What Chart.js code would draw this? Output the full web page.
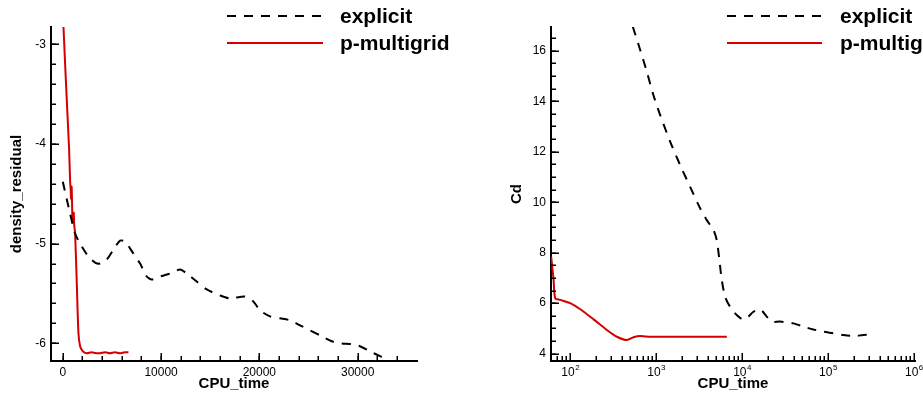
<!DOCTYPE html>
<html>
<head>
<meta charset="utf-8">
<script src="https://cdn.jsdelivr.net/npm/chart.js@4.4.1/dist/chart.umd.min.js"></script>
<style>
  body { margin: 0; background: #fff; }
  #wrap { position: relative; width: 923px; height: 394px; overflow: hidden; }
  canvas { position: absolute; top: 0; }
</style>
</head>
<body>
<div id="wrap">
  <canvas id="residualChart" width="460" height="394" style="left:0"></canvas>
  <canvas id="cdChart" width="463" height="394" style="left:460px"></canvas>
</div>
<script>
// density residual (log10) against CPU time
const resExplicitTime = [0, 746, 1254, 1763, 2610, 3288, 3797, 4475, 5153, 5831, 6339, 7186, 7864, 8542, 9051, 9898, 10915, 11932, 12610, 13627, 14644, 16000, 17017, 18542, 19390, 20068, 21085, 22102, 23119, 24136, 25153, 26169, 27356, 28203, 29559, 30237, 31254, 32271, 33119, 34000];
const resExplicitVal = [-4.38, -4.70, -4.90, -5.00, -5.13, -5.19, -5.20, -5.16, -5.06, -4.97, -4.98, -5.10, -5.20, -5.33, -5.36, -5.33, -5.30, -5.26, -5.30, -5.38, -5.46, -5.52, -5.55, -5.53, -5.58, -5.67, -5.73, -5.75, -5.77, -5.82, -5.87, -5.92, -5.98, -6.00, -6.01, -6.03, -6.08, -6.13, -6.17, -6.22];
const resMultigridTime = [30, 68, 407, 644, 746, 800, 847, 900, 983, 1030, 1085, 1120, 1153, 1254, 1424, 1593, 1763, 2034, 2441, 2900, 3400, 3797, 4300, 4800, 5300, 5800, 6300, 6678];
const resMultigridVal = [-2.6, -2.82, -3.56, -4.06, -4.38, -4.45, -4.55, -4.43, -4.76, -4.78, -4.70, -4.69, -4.80, -4.90, -5.40, -5.90, -6.03, -6.08, -6.10, -6.09, -6.10, -6.10, -6.09, -6.10, -6.09, -6.10, -6.09, -6.09];

// drag coefficient against CPU time
const cdExplicitTime = [535, 652, 778, 930, 1114, 1455, 1902, 2485, 3249, 3884, 4641, 5073, 5446, 5803, 6344, 7247, 8665, 10183, 11850, 13550, 16200, 19360, 22130, 27660, 39530, 51640, 67470, 88270, 115300, 150700, 197100, 257600, 330700];
const cdExplicitVal = [16.95, 16.03, 15.17, 14.24, 13.45, 12.40, 11.47, 10.61, 9.76, 9.29, 8.90, 8.50, 7.71, 6.92, 6.26, 5.86, 5.53, 5.36, 5.47, 5.66, 5.76, 5.47, 5.27, 5.27, 5.20, 5.07, 4.96, 4.87, 4.81, 4.74, 4.70, 4.74, 4.77];
const cdMultigridTime = [60, 64, 66.9, 76.5, 100, 130.7, 186.6, 266.7, 348.9, 456, 545, 651, 851, 1738, 6640];
const cdMultigridVal = [7.84, 6.92, 6.19, 6.13, 6.0, 5.76, 5.36, 4.94, 4.67, 4.54, 4.65, 4.70, 4.67, 4.67, 4.67];

const seriesNames = ["explicit", "p-multigrid"];

// axis ticks
const resXTicks = [0, 10000, 20000, 30000];
const resYTicks = [-6, -5, -4, -3];
const cdXTicks = [100, 1000, 10000, 100000, 1000000];
const cdYTicks = [4, 6, 8, 10, 12, 14, 16];

const RED = "#d40000";
const FONT = "'Liberation Sans', Arial, Helvetica, sans-serif";

function pairs(xs, ys) {
  return xs.map((x, i) => ({ x: x, y: ys[i] }));
}

function minorSteps(from, to, step) {
  const out = [];
  for (let v = from; v <= to + 1e-9; v += step) out.push(+v.toFixed(6));
  return out;
}

function logMinor(fromExp, toExp) {
  const out = [];
  for (let e = fromExp; e < toExp; e++)
    for (let m = 2; m <= 9; m++) out.push(m * Math.pow(10, e));
  return out;
}

// tick marks drawn on the inside of the axes
const inwardTicks = {
  id: "inwardTicks",
  afterDatasetsDraw(chart, args, o) {
    const ctx = chart.ctx;
    const xs = chart.scales.x, ys = chart.scales.y;
    ctx.save();
    ctx.strokeStyle = "#000";
    ctx.lineWidth = 1.5;
    const xt = (v, len) => {
      const px = Math.round(xs.getPixelForValue(v)) + 0.25;
      if (px < xs.left + 2 || px > xs.right) return;
      ctx.beginPath(); ctx.moveTo(px, xs.top); ctx.lineTo(px, xs.top - len); ctx.stroke();
    };
    const yt = (v, len) => {
      const py = Math.round(ys.getPixelForValue(v)) + 0.25;
      if (py < ys.top || py > ys.bottom - 2) return;
      ctx.beginPath(); ctx.moveTo(ys.right, py); ctx.lineTo(ys.right + len, py); ctx.stroke();
    };
    o.xMinor.forEach(v => xt(v, 5));
    o.xMajor.forEach(v => xt(v, 8));
    o.yMinor.forEach(v => yt(v, 5));
    o.yMajor.forEach(v => yt(v, 8));
    ctx.restore();
  }
};

// line-sample key in the upper right corner
const lineKey = {
  id: "lineKey",
  afterDraw(chart, args, o) {
    const ctx = chart.ctx;
    ctx.save();
    chart.data.datasets.forEach((ds, i) => {
      const y = o.rows[i];
      ctx.strokeStyle = ds.borderColor;
      ctx.lineWidth = ds.borderWidth;
      ctx.setLineDash(ds.borderDash || []);
      ctx.beginPath(); ctx.moveTo(o.x0, y); ctx.lineTo(o.x1, y); ctx.stroke();
      ctx.setLineDash([]);
      ctx.fillStyle = "#000";
      ctx.font = "bold 21px " + FONT;
      ctx.textBaseline = "middle";
      ctx.fillText(ds.label, o.textX, y + 1);
    });
    ctx.restore();
  }
};

// power-of-ten labels for the log axis
const powerLabels = {
  id: "powerLabels",
  afterDraw(chart, args, o) {
    if (!o.enabled) return;
    const ctx = chart.ctx;
    const xs = chart.scales.x;
    ctx.save();
    ctx.fillStyle = "#000";
    ctx.textBaseline = "alphabetic";
    xs.ticks.forEach(t => {
      const px = xs.getPixelForValue(t.value);
      const exp = String(Math.round(Math.log10(t.value)));
      ctx.font = "12px " + FONT;
      const wb = ctx.measureText("10").width;
      ctx.font = "8px " + FONT;
      const we = ctx.measureText(exp).width;
      const left = px - (wb + we) / 2;
      ctx.font = "12px " + FONT;
      ctx.fillText("10", left, xs.top + 15);
      ctx.font = "8px " + FONT;
      ctx.fillText(exp, left + wb + 0.5, xs.top + 9);
    });
    ctx.restore();
  }
};

function buildChart(id, cfg) {
  const datasets = [
    { label: seriesNames[0], data: cfg.explicit, borderColor: "#000", borderWidth: 2, borderDash: [9, 8] },
    { label: seriesNames[1], data: cfg.multigrid, borderColor: RED, borderWidth: 2 }
  ].map(d => Object.assign(d, { pointRadius: 0, fill: false, tension: 0.25 }));

  return new Chart(document.getElementById(id), {
    type: "line",
    data: { datasets: datasets },
    plugins: [inwardTicks, lineKey, powerLabels],
    options: {
      responsive: false,
      animation: false,
      events: [],
      layout: { padding: { top: 27, right: cfg.padRight, left: 0, bottom: 0 } },
      plugins: {
        legend: { display: false },
        tooltip: { enabled: false },
        inwardTicks: cfg.ticks,
        lineKey: cfg.key,
        powerLabels: { enabled: cfg.xType === "logarithmic" }
      },
      scales: {
        x: {
          type: cfg.xType,
          min: cfg.xMin,
          max: cfg.xMax,
          afterBuildTicks: s => { s.ticks = cfg.ticks.xMajor.map(v => ({ value: v })); },
          afterFit: s => { s.height = 33; },
          grid: { display: false, drawTicks: false },
          border: { display: true, color: "#000", width: 2 },
          ticks: {
            display: cfg.xType !== "logarithmic",
            padding: 4,
            maxRotation: 0,
            autoSkip: false,
            color: "#000",
            font: { size: 12, family: FONT },
            callback: v => String(v)
          },
          title: {
            display: true, text: "CPU_time", color: "#000",
            font: { size: 15, weight: "bold", family: FONT },
            padding: { top: 0, bottom: 1 }
          }
        },
        y: {
          type: "linear",
          min: cfg.yMin,
          max: cfg.yMax,
          afterBuildTicks: s => { s.ticks = cfg.ticks.yMajor.map(v => ({ value: v })); },
          afterFit: s => { s.width = cfg.yWidth; },
          grid: { display: false, drawTicks: false },
          border: { display: true, color: "#000", width: 2 },
          ticks: {
            padding: 5,
            autoSkip: false,
            color: "#000",
            font: { size: 12, family: FONT },
            callback: v => String(v)
          },
          title: {
            display: true, text: cfg.yTitle, color: "#000",
            font: { size: 15, weight: "bold", family: FONT },
            padding: { top: cfg.yTitlePad, bottom: 0 }
          }
        }
      }
    }
  });
}

buildChart("residualChart", {
  explicit: pairs(resExplicitTime, resExplicitVal),
  multigrid: pairs(resMultigridTime, resMultigridVal),
  xType: "linear", xMin: -1200, xMax: 36040,
  yMin: -6.178, yMax: -2.826,
  yWidth: 51, padRight: 43,
  yTitle: "density_residual", yTitlePad: 8,
  ticks: {
    xMajor: resXTicks, xMinor: minorSteps(0, 34000, 2000),
    yMajor: resYTicks, yMinor: minorSteps(-6.2, -2.8, 0.2)
  },
  key: { x0: 227, x1: 323, textX: 340, rows: [16, 43] }
});

buildChart("cdChart", {
  explicit: pairs(cdExplicitTime, cdExplicitVal),
  multigrid: pairs(cdMultigridTime, cdMultigridVal),
  xType: "logarithmic", xMin: 59.7, xMax: 1.03e6,
  yMin: 3.71, yMax: 16.94,
  yWidth: 91, padRight: 8,
  yTitle: "Cd", yTitlePad: 48,
  ticks: {
    xMajor: cdXTicks, xMinor: logMinor(1, 6),
    yMajor: cdYTicks, yMinor: minorSteps(3.5, 17, 0.5)
  },
  key: { x0: 267, x1: 362, textX: 380, rows: [16, 43] }
});
</script>
</body>
</html>
